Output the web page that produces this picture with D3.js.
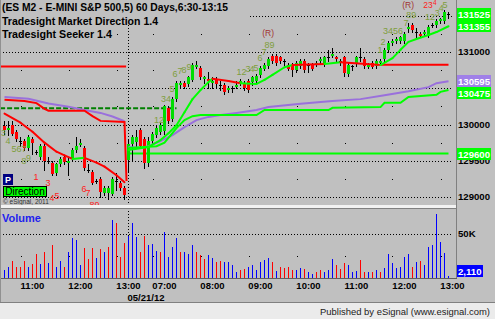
<!DOCTYPE html>
<html>
<head>
<meta charset="utf-8">
<script src="https://cdn.jsdelivr.net/npm/d3@7"></script>
<style>
  body { margin: 0; background: #c0c0c0; }
  svg { display: block; font-family: "Liberation Sans", Arial, sans-serif; }
</style>
</head>
<body>
<svg id="chart" width="495" height="319"></svg>
<script>
// ES M2 5 min bars: end of 05/18 session, then 05/21
const opens = [
  1299.75, 1299.25, 1300.0, 1299.0, 1297.75, 1297.75, 1296.75, 1298.0, 1296.25, 1295.5,
  1297.0, 1295.0, 1294.75, 1293.25, 1294.5, 1295.5, 1294.75, 1295.25, 1296.5, 1297.25,
  1296.75, 1293.75, 1293.5, 1292.25, 1292.5, 1290.5, 1290.5, 1290.5, 1292.25, 1292.0,
  1291.25, 1295.0, 1297.25, 1297.5, 1299.25, 1298.0, 1294.75, 1297.75, 1298.5, 1299.0,
  1299.0, 1302.25, 1300.75, 1303.5, 1305.5, 1305.75, 1305.5, 1306.25, 1308.0, 1307.75,
  1306.25, 1306.25, 1305.75, 1306.25, 1305.5, 1305.5, 1304.75, 1305.0, 1305.25, 1305.75,
  1305.75, 1306.0, 1305.75, 1306.0, 1306.75, 1307.75, 1308.0, 1309.5, 1309.5, 1309.25,
  1308.75, 1308.25, 1308.25, 1307.5, 1308.0, 1308.75, 1308.25, 1308.25, 1308.25, 1308.75,
  1308.25, 1309.25, 1309.5, 1309.25, 1308.75, 1309.25, 1307.0, 1308.0, 1308.25, 1309.25,
  1309.0, 1308.0, 1308.5, 1308.0, 1308.5, 1309.0, 1310.25, 1311.25, 1311.5, 1311.5,
  1311.5, 1313.25, 1313.75, 1312.75, 1312.5, 1312.5, 1312.25, 1313.75, 1313.75, 1314.25,
  1314.25, 1315.25
];
const highs = [
  1300.5, 1300.5, 1300.5, 1299.25, 1298.25, 1298.0, 1298.5, 1298.25, 1296.5, 1297.25,
  1297.25, 1295.5, 1295.0, 1294.75, 1295.5, 1295.75, 1295.5, 1296.75, 1298.25, 1298.0,
  1297.0, 1294.5, 1293.75, 1292.5, 1292.75, 1291.5, 1291.5, 1292.75, 1293.25, 1292.25,
  1291.5, 1298.0, 1298.5, 1299.25, 1299.5, 1298.25, 1298.25, 1299.0, 1299.75, 1300.25,
  1302.75, 1302.5, 1303.75, 1306.0, 1306.0, 1306.0, 1306.75, 1308.5, 1308.75, 1308.0,
  1306.75, 1307.25, 1306.5, 1306.5, 1306.0, 1305.75, 1305.25, 1305.25, 1306.0, 1306.25,
  1306.0, 1306.25, 1306.75, 1307.0, 1308.0, 1308.5, 1309.25, 1309.75, 1309.75, 1309.5,
  1309.0, 1308.5, 1308.5, 1308.75, 1309.0, 1309.0, 1308.5, 1308.5, 1308.75, 1309.25,
  1309.5, 1310.25, 1310.5, 1309.5, 1309.0, 1309.5, 1308.5, 1308.25, 1309.5, 1310.5,
  1309.25, 1308.5, 1308.75, 1309.0, 1309.0, 1310.5, 1311.5, 1311.75, 1312.0, 1312.25,
  1312.75, 1314.0, 1314.0, 1313.25, 1312.75, 1313.0, 1313.75, 1314.0, 1314.5, 1314.75,
  1315.75, 1315.5
];
const lows = [
  1298.75, 1298.5, 1298.5, 1297.75, 1297.0, 1296.5, 1296.5, 1296.0, 1296.0, 1295.25,
  1293.75, 1294.75, 1293.0, 1293.0, 1294.25, 1294.5, 1293.0, 1295.0, 1296.25, 1297.0,
  1293.75, 1293.5, 1291.75, 1292.0, 1290.0, 1290.25, 1289.75, 1290.25, 1291.0, 1291.0,
  1289.75, 1293.5, 1295.0, 1297.0, 1296.75, 1294.0, 1294.25, 1297.5, 1298.25, 1298.75,
  1298.75, 1300.25, 1300.5, 1303.25, 1305.0, 1305.0, 1305.25, 1306.0, 1307.75, 1306.25,
  1305.75, 1305.0, 1305.0, 1305.0, 1304.75, 1304.25, 1304.5, 1304.5, 1305.0, 1305.5,
  1304.75, 1304.5, 1305.5, 1305.75, 1306.5, 1307.5, 1307.75, 1308.5, 1308.25, 1308.5,
  1308.25, 1307.5, 1306.75, 1307.25, 1307.75, 1307.25, 1307.25, 1307.5, 1308.0, 1308.5,
  1308.0, 1308.75, 1309.25, 1308.75, 1308.25, 1306.75, 1306.75, 1307.5, 1308.0, 1308.75,
  1307.75, 1307.75, 1307.75, 1307.75, 1308.25, 1308.75, 1310.0, 1311.0, 1311.25, 1311.25,
  1311.25, 1312.75, 1312.75, 1312.0, 1312.0, 1312.25, 1312.0, 1313.5, 1313.5, 1314.0,
  1314.0, 1314.75
];
const closes = [
  1299.25, 1299.5, 1298.75, 1298.0, 1297.75, 1296.75, 1298.25, 1297.5, 1296.25, 1297.0,
  1295.0, 1295.0, 1293.25, 1294.5, 1295.25, 1294.75, 1295.0, 1296.5, 1297.0, 1297.5,
  1294.0, 1293.75, 1292.0, 1292.25, 1290.75, 1291.25, 1291.25, 1292.5, 1292.25, 1291.25,
  1290.25, 1297.25, 1298.25, 1298.25, 1297.0, 1294.75, 1297.75, 1298.75, 1299.5, 1300.0,
  1302.5, 1300.5, 1303.5, 1305.75, 1305.75, 1305.25, 1306.5, 1308.25, 1308.25, 1306.5,
  1306.5, 1306.0, 1306.0, 1305.5, 1305.5, 1304.5, 1305.0, 1305.0, 1305.5, 1306.0,
  1305.0, 1304.75, 1306.5, 1306.75, 1307.75, 1308.25, 1309.0, 1308.75, 1308.5, 1308.75,
  1308.75, 1307.75, 1307.5, 1308.5, 1308.75, 1307.5, 1308.25, 1307.75, 1308.5, 1309.0,
  1309.25, 1309.25, 1309.75, 1309.0, 1308.75, 1307.0, 1308.25, 1308.0, 1309.25, 1309.25,
  1308.0, 1308.25, 1308.0, 1308.75, 1308.75, 1310.25, 1311.25, 1311.5, 1311.75, 1312.0,
  1312.5, 1313.5, 1313.0, 1312.75, 1312.25, 1312.75, 1313.5, 1313.75, 1314.25, 1314.5,
  1315.5, 1315.25
];
const volumes = [
  8800, 12000, 19000, 13000, 13000, 19000, 12000, 16000, 27000, 16000,
  30000, 17000, 38000, 13000, 19000, 13000, 30000, 45000, 43000, 15000,
  34000, 22000, 34000, 23000, 33000, 30000, 35000, 66000, 63000, 24000,
  40000, 48000, 62000, 47000, 30000, 48000, 38000, 39000, 31000, 30000,
  52000, 24000, 35000, 45000, 30000, 29000, 27000, 37000, 30000, 26000,
  22000, 26000, 23000, 18000, 19000, 18000, 18000, 15000, 7000, 9000,
  10000, 13000, 15000, 9000, 18000, 20000, 23000, 18000, 8000, 12000,
  11000, 12000, 9000, 9000, 11000, 10000, 7000, 5000, 7000, 9000,
  7000, 9000, 22000, 15000, 10000, 17000, 15000, 7000, 8000, 20000,
  7000, 7000, 7000, 9000, 7000, 11000, 27000, 17000, 11000, 13000,
  24000, 27000, 12000, 18000, 19000, 15000, 35000, 38000, 73000, 41000,
  28000, 2110
];
// b = up tick volume, r = down tick volume
const volColors = "bbrrrrbrrb" + "rbrbbrbbbb" + "rrrbrbrbrr" + "rbbbrrbbbr" + "bbbbrbbbrr" +
                  "rbbrrbbbbr" + "rbbbbbbrbr" + "rrrbbrbbrr" + "bbbrrrbbbr" + "rbrbrbbbbb" +
                  "bbrbrbbbbb" + "bb";

// study lines as [bar, price]
const purpleDay1 = [[0, 1303.8], [6, 1303.55], [11, 1302.9], [16, 1302.45], [20, 1302.0], [24, 1301.6], [27, 1301.1], [30, 1300.45]];
const purpleDay2 = [[31, 1296.9], [34, 1296.75], [36, 1297.0], [39, 1297.7], [42, 1298.55], [45, 1299.65], [48, 1300.6],
  [51, 1301.05], [54, 1301.3], [58, 1301.6], [63, 1302.0], [66, 1302.4], [74, 1302.85], [82, 1303.25], [89, 1303.5],
  [95, 1304.05], [101, 1304.6], [106, 1305.15], [108, 1305.7], [111, 1305.95]];
const seekerDay1 = [[0, 1303.4], [5, 1303.25], [8, 1302.95], [10, 1302.15], [11, 1301.9], [20, 1301.9], [22, 1301.15],
  [24, 1300.5], [30, 1300.35], [30.5, 1292.2]];
const supportDay2 = [[31, 1296.75], [38, 1297.0], [40, 1297.5], [43, 1299.5], [45, 1300.6], [47, 1301.15], [49, 1301.3],
  [63, 1301.3], [65, 1302.0], [81, 1302.0], [82, 1302.3], [94, 1302.4], [95, 1303.0], [99, 1303.0], [101, 1303.8],
  [108, 1304.1], [109, 1304.5], [111, 1304.75]];
// market direction: [bar, price, colour of the segment that starts here]
const directionDay1 = [[0, 1301.5, "r"], [4, 1300.25, "r"], [7, 1299.0, "r"], [10, 1297.5, "r"], [13, 1296.25, "r"],
  [15, 1295.75, "r"], [17, 1295.25, "g"], [20, 1295.4, "r"], [23, 1294.75, "r"], [25, 1294.2, "r"], [28, 1293.0, "r"],
  [30, 1292.05, "r"]];
const directionDay2 = [[31, 1296.5, "g"], [36, 1296.9, "g"], [39, 1297.85, "g"], [41, 1298.8, "g"], [43, 1299.9, "g"],
  [45, 1301.7, "g"], [47, 1303.5, "g"], [49, 1304.75, "g"], [51, 1305.85, "g"], [52, 1306.3, "r"], [56, 1306.0, "r"],
  [59, 1305.7, "g"], [63, 1305.6, "g"], [65, 1306.15, "g"], [67, 1306.85, "g"], [70, 1307.9, "g"], [72, 1308.2, "r"],
  [80, 1308.35, "g"], [84, 1308.6, "r"], [94, 1308.2, "g"], [97, 1309.15, "g"], [99, 1310.3, "g"], [101, 1311.4, "g"],
  [103, 1311.8, "g"], [106, 1312.35, "g"], [108, 1312.75, "g"], [111, 1313.55, "g"]];
// horizontal levels: [from bar, to bar, price]
const redLevels = [[-1.1, 30.4, 1308.0], [93.9, 111, 1308.25]];
const greenLevel = [31, 111, 1296.0];
const dashedLevel = [-1.1, 43, 1302.25];

// bar count labels: [text, bar, price, colour, size]
const counts = [
  ["3", -0.25, 1298.85, "g", 9], ["4", 0.9, 1297.7, "g", 9], ["567", 3.6, 1296.6, "g", 9], ["8", 4.9, 1295.0, "g", 9], ["9", 6.0, 1295.45, "g", 9],
  ["1", 7.9, 1292.75, "r", 9], ["3", 10.9, 1291.9, "r", 9], ["4", 11.9, 1289.85, "r", 9], ["5", 13.1, 1290.15, "r", 9],
  ["6", 19.9, 1291.1, "r", 9], ["7", 20.9, 1290.55, "r", 9], ["8", 21.9, 1288.9, "r", 9], ["9", 23.1, 1288.9, "r", 9],
  ["12", 38.6, 1300.6, "g", 9], ["34", 40.4, 1303.5, "g", 9], ["5", 41.9, 1304.9, "g", 9], ["6", 42.6, 1306.95, "g", 9],
  ["7", 43.9, 1307.4, "g", 9], ["8", 44.9, 1307.5, "g", 9], ["9", 46.1, 1307.95, "g", 9],
  ["1", 58.6, 1307.25, "g", 9], ["2", 59.9, 1307.25, "g", 9], ["3", 60.9, 1307.65, "g", 9], ["4", 61.9, 1307.65, "g", 9],
  ["5", 62.9, 1307.8, "g", 9], ["6", 63.9, 1309.15, "g", 9], ["7", 64.9, 1310.0, "g", 9], ["8", 65.6, 1310.95, "g", 9],
  ["9", 66.9, 1310.95, "g", 9], ["(R)", 65.9, 1312.6, "R", 8.5],
  ["1", 93.9, 1310.3, "g", 9], ["2", 94.6, 1311.4, "g", 9], ["3456", 97.1, 1312.85, "g", 9], ["7", 100.4, 1314.0, "g", 9],
  ["89", 101.7, 1315.1, "g", 9], ["(R)", 100.9, 1316.5, "R", 8.5],
  ["12", 106.4, 1314.85, "g", 9], ["3", 108.2, 1315.45, "g", 9], ["4", 109.2, 1316.1, "g", 9], ["5", 110.1, 1316.55, "g", 9],
  ["23", 105.9, 1316.45, "r", 8.5], ["4", 107.6, 1316.75, "r", 6.5]
];

const priceTicks = [1290, 1295, 1300, 1305, 1310, 1315];
const gridBars = [4, 16, 28, 37, 49, 61, 73, 85, 97, 109];
const timeBars = [7, 19, 31, 40, 52, 64, 76, 88, 100, 112];
const timeLabels = ["11:00", "12:00", "13:00", "07:00", "08:00", "09:00", "10:00", "11:00", "12:00", "13:00"];
const dayBar = 31;
const dayLabel = "05/21/12";

const colors = { g: "#7e9e3c", r: "#ff2020", R: "#a03232" };
const lineCol = { g: "#00ff00", r: "#ff0000" };

const svg = d3.select("#chart");
const plotR = 456, priceB = 205, volT = 209, volB = 278;
const x = d3.scaleLinear().domain([0, 111]).range([4.5, 448.5]);
const y = d3.scaleLinear().domain([1288.9, 1317.17]).range([priceB, 0]);
const yv = d3.scaleLinear().domain([0, 78400]).range([volB, volT]);
const crisp = v => Math.round(v) + 0.5;

svg.append("rect").attr("width", 495).attr("height", 319).attr("fill", "#c0c0c0");

svg.append("defs").append("clipPath").attr("id", "pclip")
  .append("rect").attr("x", 0).attr("y", 0).attr("width", plotR).attr("height", priceB);

// grid
const grid = svg.append("g");
grid.selectAll("line.h").data(priceTicks).join("line").attr("class", "h")
  .attr("x1", v => v === 1315 ? 250 : 3).attr("x2", 452)
  .attr("y1", v => crisp(y(v))).attr("y2", v => crisp(y(v)))
  .attr("stroke", "#000").attr("stroke-dasharray", "1,2");
const midLevels = priceTicks.slice(0, -1).map(v => v + 2.5);
grid.selectAll("rect.d").data(d3.cross(gridBars, midLevels)).join("rect").attr("class", "d")
  .attr("x", d => Math.round(x(d[0]))).attr("y", d => Math.round(y(d[1])))
  .attr("width", 1).attr("height", 1).attr("fill", "#000");
grid.append("line")
  .attr("x1", crisp(x(dayBar)) - 1).attr("x2", crisp(x(dayBar)) - 1)
  .attr("y1", 25).attr("y2", volB)
  .attr("stroke", "#000").attr("stroke-dasharray", "1,2");

const plot = svg.append("g").attr("clip-path", "url(#pclip)");
const line = d3.line().x(d => x(d[0])).y(d => y(d[1]));

// horizontal levels
plot.selectAll("line.red").data(redLevels).join("line").attr("class", "red")
  .attr("x1", d => x(d[0])).attr("x2", d => x(d[1]))
  .attr("y1", d => y(d[2])).attr("y2", d => y(d[2]))
  .attr("stroke", "#ff0000").attr("stroke-width", 2);
plot.append("line")
  .attr("x1", x(dashedLevel[0])).attr("x2", x(dashedLevel[1]))
  .attr("y1", y(dashedLevel[2])).attr("y2", y(dashedLevel[2]))
  .attr("stroke", "#008000").attr("stroke-width", 2).attr("stroke-dasharray", "5,2");
plot.append("line")
  .attr("x1", x(greenLevel[0]) - 1).attr("x2", x(greenLevel[1]))
  .attr("y1", y(greenLevel[2])).attr("y2", y(greenLevel[2]))
  .attr("stroke", "#00ff00").attr("stroke-width", 2);

// candles
const up = "#00dd00", down = "#ff0000";
const bars = opens.map((o, i) => ({ i, o, h: highs[i], l: lows[i], c: closes[i] }));
const cg = plot.append("g").selectAll("g").data(bars).join("g");
cg.append("line")
  .attr("x1", d => x(d.i)).attr("x2", d => x(d.i))
  .attr("y1", d => Math.round(y(d.h))).attr("y2", d => Math.round(y(d.l)) + 1)
  .attr("stroke", "#000");
cg.append("rect")
  .attr("x", d => x(d.i) - 1.5).attr("width", 3)
  .attr("y", d => Math.round(y(Math.max(d.o, d.c))))
  .attr("height", d => Math.max(1, Math.round(Math.abs(y(d.o) - y(d.c)))))
  .attr("fill", d => d.c > d.o ? up : d.c < d.o ? down : "#000");

// studies
plot.append("path").datum(purpleDay1).attr("d", line).attr("fill", "none").attr("stroke", "#9a70dc").attr("stroke-width", 2);
plot.append("path").datum(purpleDay2).attr("d", line).attr("fill", "none").attr("stroke", "#9a70dc").attr("stroke-width", 2);
plot.append("path").datum(seekerDay1).attr("d", line).attr("fill", "none").attr("stroke", "#ff0000").attr("stroke-width", 2);
plot.append("path").datum(supportDay2).attr("d", line).attr("fill", "none").attr("stroke", "#00ff00").attr("stroke-width", 2);
[directionDay1, directionDay2].forEach(series => {
  const segs = d3.pairs(series);
  plot.append("g").selectAll("path").data(segs).join("path")
    .attr("d", s => line([s[0], s[1]]))
    .attr("fill", "none").attr("stroke-width", 2).attr("stroke-linecap", "round")
    .attr("stroke", s => lineCol[s[0][2]]);
});

// bar counts
plot.append("g").selectAll("text").data(counts).join("text")
  .attr("x", d => x(d[1])).attr("y", d => y(d[2])).attr("dy", "0.35em")
  .attr("text-anchor", "middle").attr("font-size", d => d[4])
  .attr("fill", d => colors[d[3]]).text(d => d[0]);

// legend
const legend = [
  ["(ES M2 - E-MINI S&P 500,5) 60 Days,6:30-13:15", 11, 226],
  ["Tradesight Market Direction 1.4", 25, 156],
  ["Tradesight Seeker 1.4", 38, 110]
];
svg.append("g").selectAll("text").data(legend).join("text")
  .attr("x", 2).attr("y", d => d[1]).attr("textLength", d => d[2]).attr("lengthAdjust", "spacingAndGlyphs")
  .attr("font-size", 11).attr("font-weight", "bold").attr("fill", "#000").text(d => d[0]);

svg.append("rect").attr("x", 3).attr("y", 174).attr("width", 10).attr("height", 11).attr("fill", "#000080");
svg.append("text").attr("x", 8).attr("y", 183).attr("text-anchor", "middle").attr("font-size", 9)
  .attr("font-weight", "bold").attr("fill", "#fff").text("P");
svg.append("rect").attr("x", 3.5).attr("y", 186.5).attr("width", 43).attr("height", 10)
  .attr("fill", "#00ff00").attr("stroke", "#000");
svg.append("text").attr("x", 25).attr("y", 195).attr("text-anchor", "middle").attr("font-size", 10)
  .attr("fill", "#000").text("Direction");
svg.append("text").attr("x", 3).attr("y", 203.5).attr("font-size", 6.5).attr("fill", "#303030").text("© eSignal, 2011");

// panel frames
svg.append("rect").attr("x", 0).attr("y", priceB).attr("width", plotR + 1).attr("height", 3).attr("fill", "#f2f2f2");
svg.append("line").attr("x1", 0).attr("x2", plotR + 1).attr("y1", 208.5).attr("y2", 208.5).attr("stroke", "#808080");
svg.append("line").attr("x1", plotR + 0.5).attr("x2", plotR + 0.5).attr("y1", 0).attr("y2", volB + 1).attr("stroke", "#808080");
svg.append("line").attr("x1", 0).attr("x2", plotR + 1).attr("y1", volB + 0.5).attr("y2", volB + 0.5).attr("stroke", "#606060");
svg.append("line").attr("x1", 0.5).attr("x2", 0.5).attr("y1", 0).attr("y2", 302).attr("stroke", "#909090");
svg.append("line").attr("x1", 0).attr("x2", 495).attr("y1", 302.5).attr("y2", 302.5).attr("stroke", "#808080");
svg.append("rect").attr("x", 0).attr("y", 303).attr("width", 495).attr("height", 16).attr("fill", "#ebebeb");
svg.append("text").attr("x", 490).attr("y", 315).attr("text-anchor", "end").attr("font-size", 9.5)
  .attr("textLength", 170).attr("lengthAdjust", "spacingAndGlyphs").attr("fill", "#222")
  .text("Published by eSignal (www.esignal.com)");

// price axis: flags for the last value of each series, plain ticks where not hidden by a flag
const fmtP = v => d3.format("d")(Math.round(v * 100));
const flags = [
  { v: closes[closes.length - 1], fill: "#00ff00" },
  { v: directionDay2[directionDay2.length - 1][1], fill: "#00ff00" },
  { v: purpleDay2[purpleDay2.length - 1][1], fill: "#a080e8" },
  { v: supportDay2[supportDay2.length - 1][1], fill: "#00ff00" },
  { v: greenLevel[2], fill: "#00ff00" }
].sort((a, b) => b.v - a.v);
let lastBottom = -Infinity;
flags.forEach(f => {
  let top = Math.round(y(f.v)) - 6;
  if (top < lastBottom) top = lastBottom;
  f.top = top;
  lastBottom = top + 12;
});
const shownTicks = priceTicks.filter(v => flags.every(f => Math.abs(y(v) - (f.top + 6)) > 6));
svg.append("g").selectAll("text").data(shownTicks).join("text")
  .attr("x", 458).attr("y", v => y(v)).attr("dy", "0.36em")
  .attr("font-size", 9.6).attr("font-weight", "bold").attr("fill", "#000").text(fmtP);
const fg = svg.append("g").selectAll("g").data(flags).join("g");
fg.append("rect").attr("x", 457).attr("y", f => f.top).attr("width", 34).attr("height", 12).attr("fill", f => f.fill);
fg.append("text").attr("x", 458).attr("y", f => f.top + 9.5)
  .attr("font-size", 9.6).attr("font-weight", "bold").attr("fill", "#fff").text(f => fmtP(f.v));

// volume
svg.append("line").attr("x1", 3).attr("x2", 452).attr("y1", crisp(yv(50000))).attr("y2", crisp(yv(50000)))
  .attr("stroke", "#000").attr("stroke-dasharray", "1,2");
svg.append("g").selectAll("rect").data(gridBars).join("rect")
  .attr("x", i => Math.round(x(i))).attr("y", Math.round(yv(25000))).attr("width", 1).attr("height", 1).attr("fill", "#000");
svg.append("g").selectAll("line").data(volumes).join("line")
  .attr("x1", (v, i) => x(i)).attr("x2", (v, i) => x(i))
  .attr("y1", volB).attr("y2", v => Math.round(yv(v)))
  .attr("stroke", (v, i) => volColors[i] === "b" ? "#0000ff" : "#ff0000");
svg.append("text").attr("x", 2).attr("y", 222).attr("font-size", 11).attr("font-weight", "bold")
  .attr("fill", "#2222ee").text("Volume");
svg.append("text").attr("x", 458).attr("y", yv(50000)).attr("dy", "0.36em")
  .attr("font-size", 9.6).attr("font-weight", "bold").attr("fill", "#000").text("50K");
const lastVol = volumes[volumes.length - 1];
const vTop = Math.min(Math.round(yv(lastVol)) - 6, volB - 13);
svg.append("rect").attr("x", 457).attr("y", vTop).attr("width", 26).attr("height", 12).attr("fill", "#0000ff");
svg.append("text").attr("x", 458).attr("y", vTop + 9.5).attr("font-size", 9.6).attr("font-weight", "bold")
  .attr("fill", "#fff").text(d3.format(",")(lastVol));

// time axis
svg.append("g").selectAll("text").data(timeBars).join("text")
  .attr("x", i => x(i)).attr("y", 289).attr("text-anchor", "middle")
  .attr("font-size", 9.5).attr("font-weight", "bold").attr("fill", "#000")
  .text((i, k) => timeLabels[k]);
svg.append("text").attr("x", x(dayBar) - 1).attr("y", 300.5)
  .attr("font-size", 9.5).attr("font-weight", "bold").attr("fill", "#000").text(dayLabel);
</script>
</body>
</html>
